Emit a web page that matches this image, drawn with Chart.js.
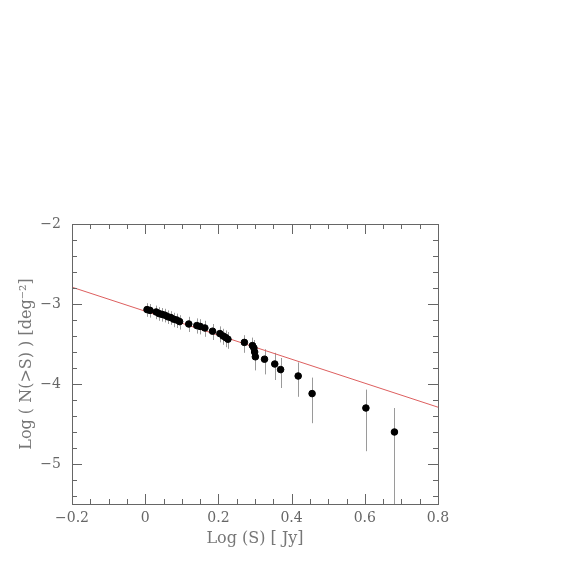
<!DOCTYPE html>
<html>
<head>
<meta charset="utf-8">
<script src="https://cdn.jsdelivr.net/npm/chart.js@4"></script>
<style>
  body { margin: 0; background: #fff; }
  canvas { display: block; }
</style>
</head>
<body>
<canvas id="counts" width="574" height="574"></canvas>
<script>
// log S [Jy] and log N(>S) [deg^-2]
const logS = [0.005, 0.013, 0.030, 0.038, 0.046, 0.054, 0.062, 0.070, 0.078, 0.086, 0.094,
    0.119, 0.141, 0.150, 0.163, 0.184, 0.204, 0.213, 0.220, 0.226,
    0.271, 0.293, 0.297, 0.299, 0.301, 0.326, 0.354, 0.370, 0.418, 0.456, 0.603, 0.681];
const logN = [-3.07, -3.08, -3.10, -3.12, -3.13, -3.14, -3.16, -3.17, -3.19, -3.20, -3.22,
    -3.25, -3.27, -3.28, -3.30, -3.34, -3.37, -3.40, -3.42, -3.44,
    -3.48, -3.52, -3.55, -3.60, -3.66, -3.69, -3.75, -3.82, -3.90, -4.12, -4.30, -4.60];
const errUp = [0.08, 0.08, 0.08, 0.08, 0.08, 0.08, 0.08, 0.08, 0.08, 0.08, 0.08,
    0.09, 0.09, 0.09, 0.09, 0.09, 0.09, 0.09, 0.09, 0.09,
    0.09, 0.10, 0.10, 0.11, 0.11, 0.125, 0.14, 0.145, 0.17, 0.20, 0.23, 0.30];
const errDown = [0.09, 0.09, 0.09, 0.09, 0.09, 0.09, 0.09, 0.09, 0.10, 0.10, 0.10,
    0.10, 0.10, 0.10, 0.11, 0.11, 0.11, 0.11, 0.12, 0.12,
    0.13, 0.13, 0.14, 0.15, 0.17, 0.19, 0.20, 0.23, 0.26, 0.37, 0.54, 1.20];

// straight-line fit
const fitX = [-0.2, 0.8];
const fitY = [-2.79, -4.29];

const xTicks = [-0.2, 0, 0.2, 0.4, 0.6, 0.8];
const yTicks = [-5, -4, -3, -2];

const serif = 'DejaVu Serif';
const minus = v => String(v).replace('-', '\u2212');

// gray error bars, drawn under the dots
const errorBars = {
    id: 'errorBars',
    beforeDatasetsDraw(chart) {
        const {ctx, chartArea, scales: {x, y}} = chart;
        ctx.save();
        ctx.beginPath();
        ctx.rect(chartArea.left, chartArea.top, chartArea.width, chartArea.height);
        ctx.clip();
        ctx.strokeStyle = '#9a9a9a';
        ctx.lineWidth = 1;
        logS.forEach((s, i) => {
            const px = Math.round(x.getPixelForValue(s)) + 0.5;
            ctx.beginPath();
            ctx.moveTo(px, y.getPixelForValue(logN[i] + errUp[i]));
            ctx.lineTo(px, y.getPixelForValue(logN[i] - errDown[i]));
            ctx.stroke();
        });
        ctx.restore();
    }
};

// box with inward ticks on all four sides
const frame = {
    id: 'frame',
    afterDraw(chart) {
        const {ctx, chartArea: a, scales: {x, y}} = chart;
        ctx.save();
        ctx.strokeStyle = '#666';
        ctx.lineWidth = 1;
        ctx.strokeRect(Math.round(a.left) + 0.5, Math.round(a.top) + 0.5,
            Math.round(a.width), Math.round(a.height));
        ctx.beginPath();
        for (let k = -4; k <= 16; k++) {
            const v = k * 0.05;
            const len = k % 4 === 0 ? 10 : 5;
            const px = Math.round(x.getPixelForValue(v)) + 0.5;
            ctx.moveTo(px, a.bottom); ctx.lineTo(px, a.bottom - len);
            ctx.moveTo(px, a.top); ctx.lineTo(px, a.top + len);
        }
        for (let k = -27; k <= -10; k++) {
            const v = k * 0.2;
            const len = k % 5 === 0 ? 10 : 5;
            const py = Math.round(y.getPixelForValue(v)) + 0.5;
            ctx.moveTo(a.left, py); ctx.lineTo(a.left + len, py);
            ctx.moveTo(a.right, py); ctx.lineTo(a.right - len, py);
        }
        ctx.stroke();
        ctx.restore();
    }
};

new Chart(document.getElementById('counts').getContext('2d'), {
    type: 'scatter',
    data: {
        datasets: [{
            label: 'counts',
            data: logS.map((s, i) => ({x: s, y: logN[i]})),
            backgroundColor: '#000',
            borderColor: '#000',
            pointRadius: 3.3,
            pointHoverRadius: 3.3
        }, {
            type: 'line',
            label: 'fit',
            data: fitX.map((s, i) => ({x: s, y: fitY[i]})),
            borderColor: '#dd5f5f',
            borderWidth: 1,
            pointRadius: 0,
            fill: false
        }]
    },
    options: {
        responsive: false,
        animation: false,
        layout: {
            padding: {top: 224, right: 136, left: 0, bottom: 0}
        },
        plugins: {
            legend: {display: false},
            tooltip: {enabled: false}
        },
        scales: {
            x: {
                type: 'linear',
                min: -0.2,
                max: 0.8,
                afterFit: s => { s.height = 70; },
                afterBuildTicks: s => { s.ticks = xTicks.map(v => ({value: v})); },
                grid: {display: false, drawTicks: false},
                border: {display: false},
                ticks: {
                    padding: 6,
                    color: '#666',
                    font: {family: serif, size: 14},
                    maxRotation: 0,
                    callback: v => minus(Math.round(v * 10) / 10)
                },
                title: {
                    display: true,
                    text: 'Log (S) [ Jy]',
                    color: '#777',
                    font: {family: serif, size: 16},
                    padding: {top: 0, bottom: 26}
                }
            },
            y: {
                type: 'linear',
                min: -5.5,
                max: -2,
                afterFit: s => { s.width = 72; },
                afterBuildTicks: s => { s.ticks = yTicks.map(v => ({value: v})); },
                grid: {display: false, drawTicks: false},
                border: {display: false},
                ticks: {
                    padding: 11,
                    color: '#666',
                    font: {family: serif, size: 14},
                    callback: v => minus(v)
                },
                title: {
                    display: true,
                    text: 'Log ( N(>S) ) [deg\u207B\u00B2]',
                    color: '#777',
                    font: {family: serif, size: 16},
                    padding: {top: 17, bottom: 0}
                }
            }
        }
    },
    plugins: [errorBars, frame]
});
</script>
</body>
</html>
